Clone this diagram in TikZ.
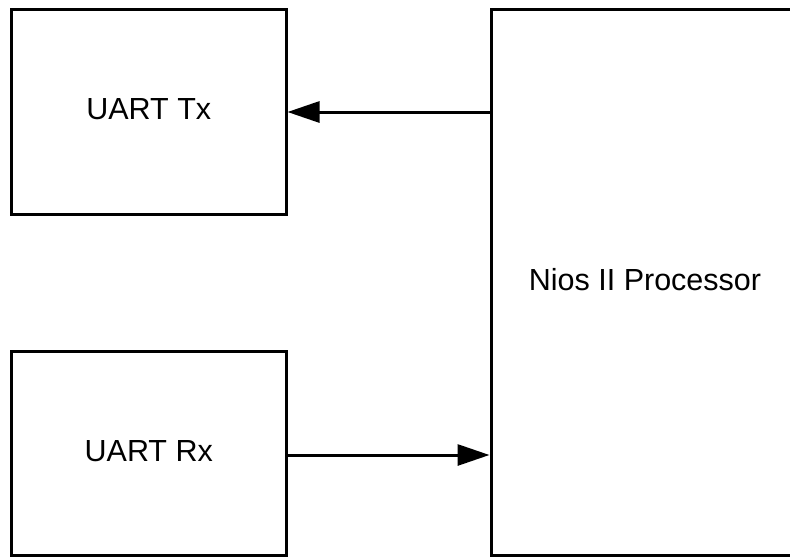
\documentclass[tikz,border=0pt]{standalone}
\usepackage{fontspec}
\setmainfont{Liberation Sans}
\usetikzlibrary{arrows.meta}
\begin{document}
\begin{tikzpicture}[x=1pt,y=-1pt,
  blk/.style={draw=black, line width=3pt, fill=white, inner sep=0pt,
    text height=22pt, text depth=7pt,
    font=\fontsize{30.5}{36}\selectfont},
  conn/.style={line width=3pt, -{Triangle[length=32pt,width=21pt]}}]
\useasboundingbox (0,0) rectangle (790,557);
\node[blk, minimum width=274.5pt, minimum height=204.5pt] (tx) at (148.75,111.75) {UART Tx};
\node[blk, minimum width=274.5pt, minimum height=204pt] (rx) at (148.75,453.5) {UART Rx};
\node[blk, minimum width=308pt, minimum height=546pt] (nios) at (645,282.5) {Nios II Processor};
\draw[conn] (nios.west |- 0,112) -- (tx.east |- 0,112);
\draw[conn] (rx.east |- 0,455) -- (nios.west |- 0,455);
\end{tikzpicture}
\end{document}
